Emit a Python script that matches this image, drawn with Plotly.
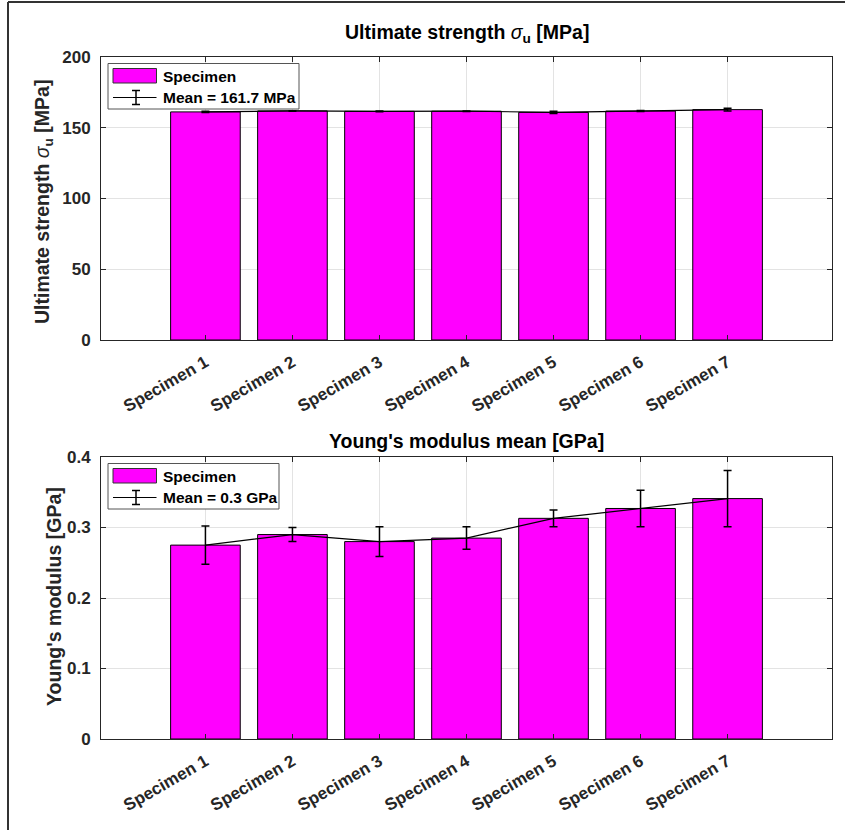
import numpy as np
import plotly.graph_objects as go

# ---------------- data ----------------
specimens = ["Specimen 1", "Specimen 2", "Specimen 3", "Specimen 4",
             "Specimen 5", "Specimen 6", "Specimen 7"]
strength = [161.2, 161.9, 161.6, 161.7, 160.9, 161.8, 162.8]      # MPa
strength_err = [0.5, 0.2, 0.3, 0.2, 0.8, 0.4, 1.0]
modulus = [0.275, 0.290, 0.280, 0.285, 0.313, 0.327, 0.341]       # GPa
modulus_err = [0.027, 0.010, 0.021, 0.016, 0.012, 0.026, 0.040]
strength_ticks = [0, 50, 100, 150, 200]
modulus_ticks = [0, 0.1, 0.2, 0.3, 0.4]

# ---------------- styling ----------------
W, H = 845, 830
L, R, T, B = 101, 832, 57, 739          # plot area pixel box
FONT = "Liberation Sans, Arial, sans-serif"
MAG = "#FF00FF"
AX = "#262626"
GRID = "#e3e3e3"

xpos = list(range(1, len(specimens) + 1))

def py(p):          # pixel y -> paper y
    return (B - p) / (B - T)

def px(p):          # pixel x -> paper x
    return (p - L) / (R - L)

top_dom = [py(340), 1.0]
bot_dom = [0.0, py(457)]

fig = go.Figure()

for (vals, errs, xa, ya) in [(strength, strength_err, "x", "y"),
                             (modulus, modulus_err, "x2", "y2")]:
    fig.add_trace(go.Bar(x=xpos, y=vals, width=0.8, xaxis=xa, yaxis=ya,
                         marker=dict(color=MAG, line=dict(color="black", width=1)),
                         showlegend=False))
    fig.add_trace(go.Scatter(x=xpos, y=vals, mode="lines", xaxis=xa, yaxis=ya,
                             line=dict(color="black", width=1.2),
                             error_y=dict(type="data", array=errs, color="black",
                                          thickness=1.5, width=4),
                             showlegend=False))

xcommon = dict(range=[-0.2, 8.2], tickmode="array", tickvals=xpos,
               ticktext=specimens, tickangle=-30, showgrid=True, gridcolor=GRID,
               showline=True, linecolor=AX, linewidth=1, mirror="ticks",
               ticks="inside", ticklen=5, tickcolor=AX, zeroline=False,
               tickfont=dict(family=FONT, size=17, color=AX, weight="bold"),
               ticklabelstandoff=5)
ycommon = dict(showgrid=True, gridcolor=GRID, showline=True, linecolor=AX,
               linewidth=1, mirror="ticks", ticks="inside", ticklen=5,
               tickcolor=AX, zeroline=False, tickmode="array",
               tickfont=dict(family=FONT, size=17, color=AX, weight="bold"),
               ticklabelstandoff=6)

fig.update_layout(
    width=W, height=H,
    margin=dict(l=L, r=W - R, t=T, b=H - B, pad=0, autoexpand=False),
    paper_bgcolor="white", plot_bgcolor="white",
    showlegend=False, bargap=0.2,
    xaxis=dict(domain=[0, 1], anchor="y", **xcommon),
    yaxis=dict(domain=top_dom, anchor="x", range=[0, 200],
               tickvals=strength_ticks,
               ticktext=[str(v) for v in strength_ticks], **ycommon),
    xaxis2=dict(domain=[0, 1], anchor="y2", **xcommon),
    yaxis2=dict(domain=bot_dom, anchor="x2", range=[0, 0.4],
                tickvals=modulus_ticks,
                ticktext=["0" if v == 0 else f"{v:.1f}" for v in modulus_ticks],
                **ycommon),
)

ann = []
shapes = []

TSIZE = 19.5
# titles
ann.append(dict(xref="paper", yref="paper", x=0.5, y=py(33), xanchor="center",
                yanchor="middle", showarrow=False,
                text="<b>Ultimate strength </b><i>σ</i><sub><b>u</b></sub><b> [MPa]</b>",
                font=dict(family=FONT, size=TSIZE, color="black")))
ann.append(dict(xref="paper", yref="paper", x=0.5, y=py(441), xanchor="center",
                yanchor="middle", showarrow=False,
                text="<b>Young's modulus mean [GPa]</b>",
                font=dict(family=FONT, size=TSIZE, color="black")))
# y-axis titles
ann.append(dict(xref="paper", yref="paper", x=px(43), y=py(202), xanchor="center",
                yanchor="middle", showarrow=False, textangle=-90,
                text="<b>Ultimate strength </b><i>σ</i><sub><b>u</b></sub><b> [MPa]</b>",
                font=dict(family=FONT, size=TSIZE, color=AX)))
ann.append(dict(xref="paper", yref="paper", x=px(54), y=py(597), xanchor="center",
                yanchor="middle", showarrow=False, textangle=-90,
                text="<b>Young's modulus [GPa]</b>",
                font=dict(family=FONT, size=TSIZE, color=AX)))

# custom legends (pixel boxes converted to axis-domain coords)
def legend(xr, yr, top, bottom, box_right, mean_text):
    h = bottom - top
    def dx(p):
        return (p - L) / (R - L)
    def dy(p):
        return (bottom - p) / h
    bx0, bx1 = 108, box_right
    by0, by1 = top + 6.5, top + 52
    shapes.append(dict(type="rect", xref=xr, yref=yr, x0=dx(bx0), x1=dx(bx1),
                       y0=dy(by1), y1=dy(by0), line=dict(color="#555555", width=1),
                       fillcolor="white", layer="above"))
    shapes.append(dict(type="rect", xref=xr, yref=yr, x0=dx(113), x1=dx(156.5),
                       y0=dy(top + 26), y1=dy(top + 11.5),
                       line=dict(color="#333333", width=1), fillcolor=MAG,
                       layer="above"))
    ly = top + 40.5
    shapes.append(dict(type="line", xref=xr, yref=yr, x0=dx(113), x1=dx(156.5),
                       y0=dy(ly), y1=dy(ly), line=dict(color="black", width=1.2),
                       layer="above"))
    shapes.append(dict(type="line", xref=xr, yref=yr, x0=dx(136), x1=dx(136),
                       y0=dy(ly - 7), y1=dy(ly + 7), line=dict(color="black", width=1.5),
                       layer="above"))
    for yy in (ly - 7, ly + 7):
        shapes.append(dict(type="line", xref=xr, yref=yr, x0=dx(132), x1=dx(140),
                           y0=dy(yy), y1=dy(yy), line=dict(color="black", width=1.5),
                           layer="above"))
    ann.append(dict(xref=xr, yref=yr, x=dx(160.5), y=dy(top + 20), xanchor="left",
                    yanchor="middle", showarrow=False, text="<b>Specimen</b>",
                    font=dict(family=FONT, size=15.5, color="black")))
    ann.append(dict(xref=xr, yref=yr, x=dx(160.5), y=dy(ly), xanchor="left",
                    yanchor="middle", showarrow=False, text=f"<b>{mean_text}</b>",
                    font=dict(family=FONT, size=15.5, color="black")))

legend("x domain", "y domain", 57, 340, 299,
       f"Mean = {np.mean(strength):.1f} MPa")
legend("x2 domain", "y2 domain", 457, 739, 279,
       f"Mean = {np.mean(modulus):.1f} GPa")

# outer figure frame (left and top edges)
shapes.append(dict(type="line", xref="paper", yref="paper", x0=px(8), x1=px(8),
                   y0=py(2), y1=py(830), line=dict(color="#333333", width=2)))
shapes.append(dict(type="line", xref="paper", yref="paper", x0=px(8), x1=px(845),
                   y0=py(2), y1=py(2), line=dict(color="#333333", width=2)))

fig.update_layout(annotations=ann, shapes=shapes)
fig.write_html("out.html",
               config={"displayModeBar": False},
               post_script="document.body.style.margin='0';"
                           "document.body.style.overflow='hidden';")
